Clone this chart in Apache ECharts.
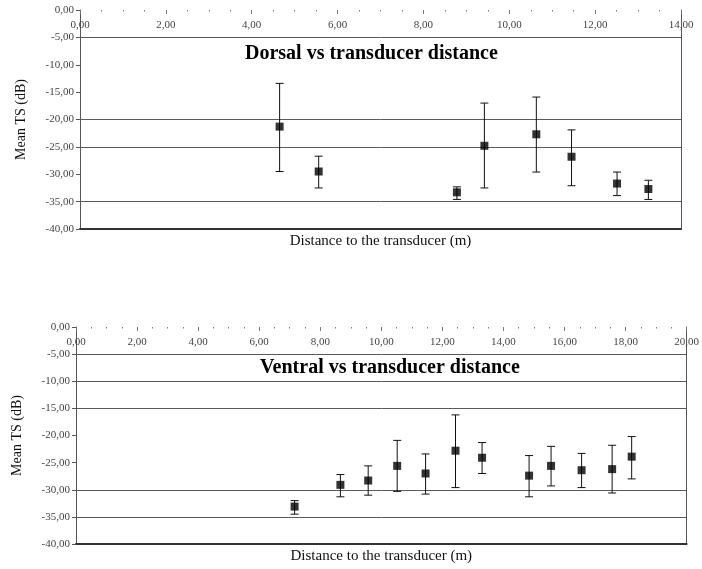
<!DOCTYPE html>
<html>
<head>
<meta charset="utf-8">
<script src="https://cdn.jsdelivr.net/npm/echarts@6/dist/echarts.min.js"></script>
<style>
  html, body { margin: 0; background: #fff; }
  #chart { width: 702px; height: 569px; }
</style>
</head>
<body>
<div id="chart"></div>
<script>
// dorsal: distance (m), mean TS and the ends of the error bars (dB)
const dorsalDist = [4.65, 5.56, 8.78, 9.42, 10.63, 11.45, 12.51, 13.24]
const dorsalMean = [-21.3, -29.5, -33.3, -24.8, -22.7, -26.8, -31.7, -32.7]
const dorsalHigh = [-13.4, -26.7, -32.3, -17.0, -15.9, -21.9, -29.6, -31.1]
const dorsalLow = [-29.5, -32.5, -34.6, -32.5, -29.6, -32.1, -33.9, -34.6]

// ventral
const ventralDist = [7.16, 8.66, 9.57, 10.52, 11.45, 12.43, 13.30, 14.84, 15.56, 16.56, 17.56, 18.20]
const ventralMean = [-33.1, -29.1, -28.3, -25.6, -27.0, -22.8, -24.1, -27.4, -25.6, -26.4, -26.2, -23.9]
const ventralHigh = [-32.0, -27.2, -25.6, -20.9, -23.4, -16.2, -21.3, -23.7, -22.0, -23.3, -21.8, -20.2]
const ventralLow = [-34.5, -31.3, -31.0, -30.3, -30.8, -29.6, -27.0, -31.3, -29.3, -29.6, -30.6, -28.0]

const titles = ['Dorsal vs transducer distance', 'Ventral vs transducer distance']
const xMax = [14, 20]
const yMin = -40
const yMax = 0

const FONT = 'Liberation Serif'
const comma = v => v.toFixed(2).replace('.', ',')

// which horizontal grid lines survive in the scan (from -40 up to 0)
const gridColors = [
  ['transparent', '#5a5a5a', 'transparent', '#5a5a5a', '#5a5a5a', 'transparent', 'transparent', '#5a5a5a', 'transparent'],
  ['transparent', '#5a5a5a', '#5a5a5a', 'transparent', 'transparent', '#5a5a5a', '#5a5a5a', '#5a5a5a', 'transparent']
]

const grids = [
  { left: 80, top: 10, width: 601, height: 219 },
  { left: 76, top: 327, width: 616, height: 217 }
]

function errorBar (params, api) {
  const x = api.value(0)
  const hi = api.coord([x, api.value(1)])
  const lo = api.coord([x, api.value(2)])
  const w = 4
  const style = { stroke: '#111', lineWidth: 1 }
  return {
    type: 'group',
    children: [
      { type: 'line', shape: { x1: hi[0], y1: hi[1], x2: lo[0], y2: lo[1] }, style },
      { type: 'line', shape: { x1: hi[0] - w, y1: hi[1], x2: hi[0] + w, y2: hi[1] }, style },
      { type: 'line', shape: { x1: lo[0] - w, y1: lo[1], x2: lo[0] + w, y2: lo[1] }, style }
    ]
  }
}

const xAxis = []
const yAxis = []
const series = []
const graphic = []
const sets = [
  [dorsalDist, dorsalMean, dorsalHigh, dorsalLow],
  [ventralDist, ventralMean, ventralHigh, ventralLow]
]

for (let k = 0; k < 2; k++) {
  const [dist, mean, high, low] = sets[k]
  xAxis.push({
    type: 'value',
    gridIndex: k,
    position: 'top',
    min: 0,
    max: xMax[k],
    interval: 2,
    axisLine: { show: false, onZero: false },
    axisTick: { show: true, inside: true, length: 4, lineStyle: { color: '#777' } },
    minorTick: { show: true, splitNumber: 4, length: 1.5, lineStyle: { color: '#777' } },
    axisLabel: {
      inside: true, margin: 10, formatter: comma,
      fontFamily: FONT, fontSize: 11, color: '#444'
    },
    splitLine: { show: false }
  })
  xAxis.push({
    type: 'value',
    gridIndex: k,
    position: 'bottom',
    min: 0,
    max: xMax[k],
    axisLine: { show: true, onZero: false, lineStyle: { color: '#333', width: 2 } },
    axisTick: { show: false },
    axisLabel: { show: false },
    splitLine: { show: false },
    name: 'Distance to the transducer (m)',
    nameLocation: 'middle',
    nameGap: 5,
    nameTextStyle: { fontFamily: FONT, fontSize: 15, color: '#111' }
  })
  yAxis.push({
    type: 'value',
    gridIndex: k,
    position: 'left',
    min: yMin,
    max: yMax,
    interval: 5,
    axisLine: { show: true, onZero: false, lineStyle: { color: '#555' } },
    axisTick: { show: true, length: 4, lineStyle: { color: '#555' } },
    axisLabel: { formatter: comma, fontFamily: FONT, fontSize: 11, color: '#444', margin: 6 },
    splitLine: { show: true, lineStyle: { color: gridColors[k], width: 1 } },
    name: 'Mean TS (dB)',
    nameLocation: 'middle',
    nameGap: 52,
    nameTextStyle: { fontFamily: FONT, fontSize: 14, color: '#111' }
  })
  yAxis.push({
    type: 'value',
    gridIndex: k,
    position: 'right',
    min: yMin,
    max: yMax,
    axisLine: { show: true, onZero: false, lineStyle: { color: '#555' } },
    axisTick: { show: false },
    axisLabel: { show: false },
    splitLine: { show: false }
  })
  series.push({
    type: 'custom',
    xAxisIndex: 2 * k,
    yAxisIndex: 2 * k,
    renderItem: errorBar,
    encode: { x: 0, y: [1, 2] },
    data: dist.map((d, i) => [d, high[i], low[i]]),
    z: 2
  })
  series.push({
    type: 'scatter',
    xAxisIndex: 2 * k,
    yAxisIndex: 2 * k,
    symbol: 'rect',
    symbolSize: 8,
    itemStyle: { color: '#000' },
    data: dist.map((d, i) => [d, mean[i]]),
    z: 3
  })
}

graphic.push({
  type: 'text', left: 245, top: 44,
  style: { text: titles[0], font: 'bold 20px "Liberation Serif"', fill: '#000' }
})
graphic.push({
  type: 'text', left: 260, top: 358,
  style: { text: titles[1], font: 'bold 20px "Liberation Serif"', fill: '#000' }
})

const chart = echarts.init(document.getElementById('chart'))
chart.setOption({
  backgroundColor: '#fff',
  animation: false,
  grid: grids,
  xAxis,
  yAxis,
  series,
  graphic
})
</script>
</body>
</html>
